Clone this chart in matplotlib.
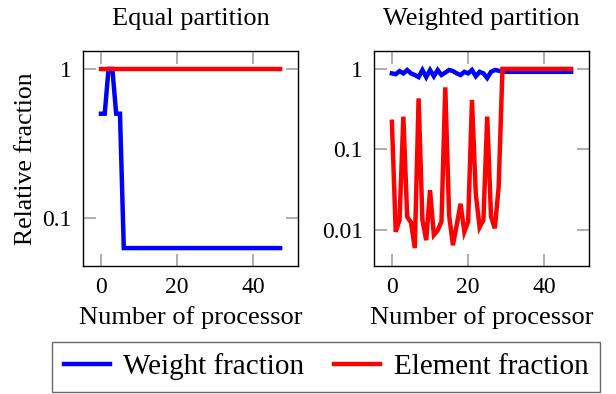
import numpy as np
import matplotlib
matplotlib.use("Agg")
import matplotlib.pyplot as plt
from matplotlib.ticker import FixedLocator, NullLocator, FixedFormatter

plt.rcParams['font.family'] = ['Liberation Serif', 'DejaVu Serif']

# processors 0..47
processors = np.arange(48)

# equal partition
equal_weight = [0.5, 0.5, 1.0, 1.0, 0.5, 0.5] + [0.0625] * 42
equal_element = [1.0] * 48

# weighted partition
weighted_weight = [0.88, 0.86, 0.94, 0.88, 0.97, 0.88, 0.84, 0.79, 0.97, 0.79,
                   0.97, 0.81, 0.97, 0.84, 0.90, 0.97, 0.94, 0.88, 0.84, 0.92,
                   0.88, 0.97, 0.81, 0.92, 0.88, 0.77, 0.92, 0.97, 0.95, 0.92] + [0.92] * 18
weighted_element = [0.22, 0.0094, 0.0132, 0.255, 0.0145, 0.0123, 0.0059, 0.43, 0.0132, 0.0074,
                    0.031, 0.0086, 0.0098, 0.0126, 0.59, 0.0152, 0.0064, 0.0114, 0.021, 0.0094,
                    0.0126, 0.41, 0.028, 0.0107, 0.0132, 0.255, 0.0145, 0.0104, 0.034, 1.0] + [1.0] * 18

titles = ['Equal partition', 'Weighted partition']
xticks = [0, 20, 40]
yticks_left = [0.1, 1]
yticks_right = [0.01, 0.1, 1]

W, H = 616, 394
fig = plt.figure(figsize=(W / 100, H / 100), dpi=100)
FS_TICK = 17
FS_TEXT = 19
BLUE = '#0000ff'
RED = '#ff0000'


def make_axes(x0, x1, y0, y1):
    return fig.add_axes([x0 / W, 1 - y1 / H, (x1 - x0) / W, (y1 - y0) / H])


def style(ax, weight, element, title, yticks, ylabel=None):
    ax.plot(processors, weight, color=BLUE, lw=3.2, label='Weight fraction', solid_joinstyle='miter')
    ax.plot(processors, element, color=RED, lw=3.2, label='Element fraction', solid_joinstyle='miter')
    ax.set_yscale('log')
    # pgfplots-like 10% enlargement
    ax.set_xlim(-0.1 * 47, 47 * 1.1)
    lo = np.log10(min(min(weight), min(element)))
    hi = np.log10(max(max(weight), max(element)))
    pad = 0.1 * (hi - lo)
    ax.set_ylim(10 ** (lo - pad), 10 ** (hi + pad))
    ax.xaxis.set_major_locator(FixedLocator(xticks))
    ax.yaxis.set_major_locator(FixedLocator(yticks))
    ax.yaxis.set_major_formatter(FixedFormatter([('%g' % t) for t in yticks]))
    ax.yaxis.set_minor_locator(NullLocator())
    ax.tick_params(direction='in', top=True, right=True, length=9, width=1.2,
                   color='#a0a0a0', labelsize=FS_TICK, pad=8)
    for s in ax.spines.values():
        s.set_linewidth(1.0)
    ax.set_title(title, fontsize=FS_TEXT, pad=19)
    ax.set_xlabel('Number of processor', fontsize=FS_TEXT, labelpad=6)
    if ylabel:
        ax.set_ylabel(ylabel, fontsize=18.5, labelpad=4)


ax1 = make_axes(83, 298, 51, 266)
style(ax1, equal_weight, equal_element, titles[0], yticks_left, 'Relative fraction')
ax2 = make_axes(374, 589, 51, 266)
style(ax2, weighted_weight, weighted_element, titles[1], yticks_right)

handles, labels = ax1.get_legend_handles_labels()
leg = fig.legend(handles, labels, loc='center', bbox_to_anchor=(326 / W, 1 - 367 / H), ncol=2,
                 fontsize=21, frameon=True, fancybox=False, edgecolor='#444444', handlelength=1.6,
                 columnspacing=1.0, handletextpad=0.45, borderpad=0.4, borderaxespad=0)
leg.get_frame().set_linewidth(1.0)

fig.savefig('out.png', dpi=100)
